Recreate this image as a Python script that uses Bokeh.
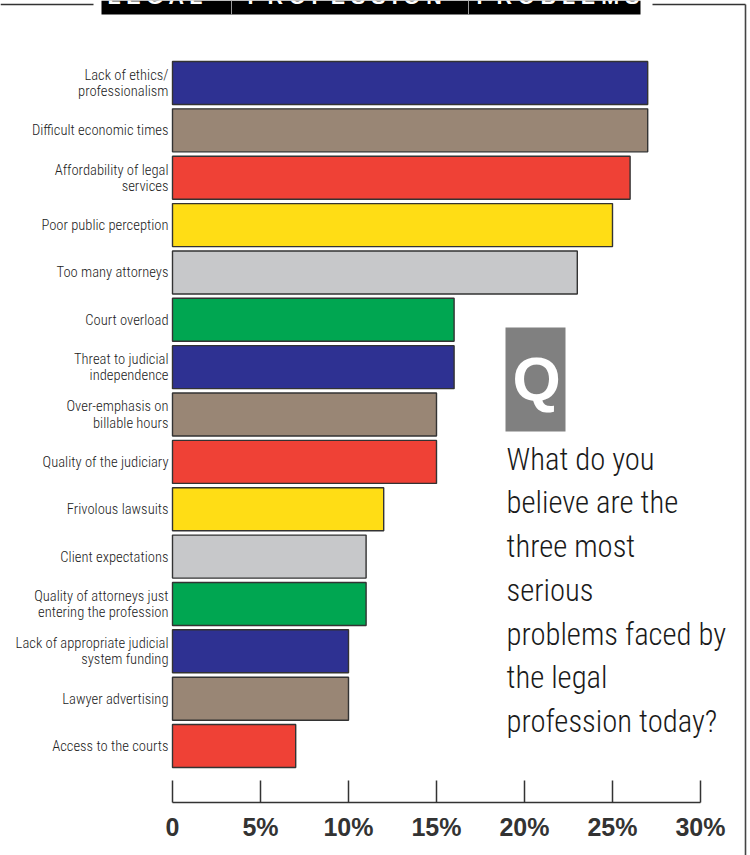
from bokeh.core.properties import value
from bokeh.embed import file_html
from bokeh.models import ColumnDataSource, FixedTicker, LinearAxis, Range1d
from bokeh.plotting import figure
from bokeh.resources import INLINE

# Survey answers, most cited first
problems = [
    "Lack of ethics/\nprofessionalism",
    "Difficult economic times",
    "Affordability of legal\nservices",
    "Poor public perception",
    "Too many attorneys",
    "Court overload",
    "Threat to judicial\nindependence",
    "Over-emphasis on\nbillable hours",
    "Quality of the judiciary",
    "Frivolous lawsuits",
    "Client expectations",
    "Quality of attorneys just\nentering the profession",
    "Lack of appropriate judicial\nsystem funding",
    "Lawyer advertising",
    "Access to the courts",
]
shares = [27, 27, 26, 25, 23, 16, 16, 15, 15, 12, 11, 11, 10, 10, 7]
palette = ["#2E3192", "#998675", "#EF4136", "#FFDD15", "#C7C8CA", "#00A651"]
tick_values = [0, 5, 10, 15, 20, 25, 30]
tick_labels = ["0", "5%", "10%", "15%", "20%", "25%", "30%"]
question = ("What do you\nbelieve are the\nthree most\nserious\nproblems faced by\n"
            "the legal\nprofession today?")
header_words = ["L E G A L", "P R O F E S S I O N", "P R O B L E M S"]

WIDTH, HEIGHT = 750, 855
ORIGIN_X, PX_PER_PCT = 172.0, 17.6
FIRST_ROW_Y, ROW_PITCH = 82.5, 47.36
LIGHT_FONT = value("Roboto Condensed Light, Roboto Condensed")


def sx(px):
    return (px - ORIGIN_X) / PX_PER_PCT


def sy(px):
    return (px - FIRST_ROW_Y) / ROW_PITCH


p = figure(
    width=WIDTH, height=HEIGHT, output_backend="svg", toolbar_location=None,
    x_range=Range1d(sx(0), sx(WIDTH)), y_range=Range1d(sy(HEIGHT), sy(0)),
    x_axis_location=None, y_axis_location=None, min_border=0,
    outline_line_color=None, background_fill_color="white", border_fill_color="white",
)
p.grid.visible = False

rows = list(range(len(problems)))
source = ColumnDataSource(dict(
    row=rows, share=shares, problem=problems,
    color=[palette[i % len(palette)] for i in rows],
))

p.hbar(y="row", left=0, right="share", height=0.908, source=source,
       fill_color="color", line_color="#333333", line_width=1.4)
p.text(x=0, y="row", text="problem", source=source, x_offset=-4,
       text_align="right", text_baseline="middle", text_font=LIGHT_FONT,
       text_font_size="14.6px", text_color="#222222", text_line_height=0.9)

# Percentage axis drawn inside the frame, just under the last bar
axis = LinearAxis(
    fixed_location=sy(802), bounds=(0, 30), ticker=FixedTicker(ticks=tick_values),
    major_label_overrides={v: t for v, t in zip(tick_values, tick_labels)},
    major_tick_in=22, major_tick_out=0, minor_tick_line_color=None,
    axis_line_color="#333333", axis_line_width=1.5,
    major_tick_line_color="#333333", major_tick_line_width=1.5,
    major_label_standoff=10, major_label_text_font="Liberation Sans",
    major_label_text_font_style="bold", major_label_text_font_size="25px",
    major_label_text_color="#333333",
)
p.add_layout(axis, "below")

# Page rule running along the top and down the right edge
p.segment(x0=[sx(0), sx(652)], y0=[sy(4)] * 2, x1=[sx(93), sx(745)], y1=[sy(4)] * 2,
          line_color="#333333", line_width=1.6)
p.segment(x0=[sx(745)], y0=[sy(4)], x1=[sx(745)], y1=[sy(HEIGHT)],
          line_color="#444444", line_width=1.6)

# Black title band, cut off by the top of the page
p.quad(left=[sx(101)], right=[sx(640)], top=[sy(0)], bottom=[sy(14)],
       fill_color="black", line_color=None)
p.segment(x0=[sx(231), sx(468)], y0=[sy(0)] * 2, x1=[sx(231), sx(468)], y1=[sy(14)] * 2,
          line_color="#9a9a9a", line_width=1)
p.text(x=[sx(107), sx(247), sx(476)], y=[sy(-4)] * 3, text=header_words,
       text_align="left", text_baseline="middle",
       text_font=value("Liberation Sans"), text_font_style="bold",
       text_font_size="21.5px", text_color="white")

# Question badge and wording
p.quad(left=[sx(505)], right=[sx(565)], top=[sy(327)], bottom=[sy(431)],
       fill_color="#808080", line_color=None)
p.text(x=[sx(536)], y=[sy(378)], text=["Q"], text_align="center", text_baseline="middle",
       text_font=value("Liberation Sans"), text_font_style="bold",
       text_font_size="62px", text_color="white")
p.text(x=[sx(506)], y=[sy(441)], text=[question], text_align="left", text_baseline="top",
       text_font=LIGHT_FONT, text_font_size="30.7px",
       text_color="#1a1a1a", text_line_height=1.25)

open("out.html", "w").write(file_html(p, INLINE))
